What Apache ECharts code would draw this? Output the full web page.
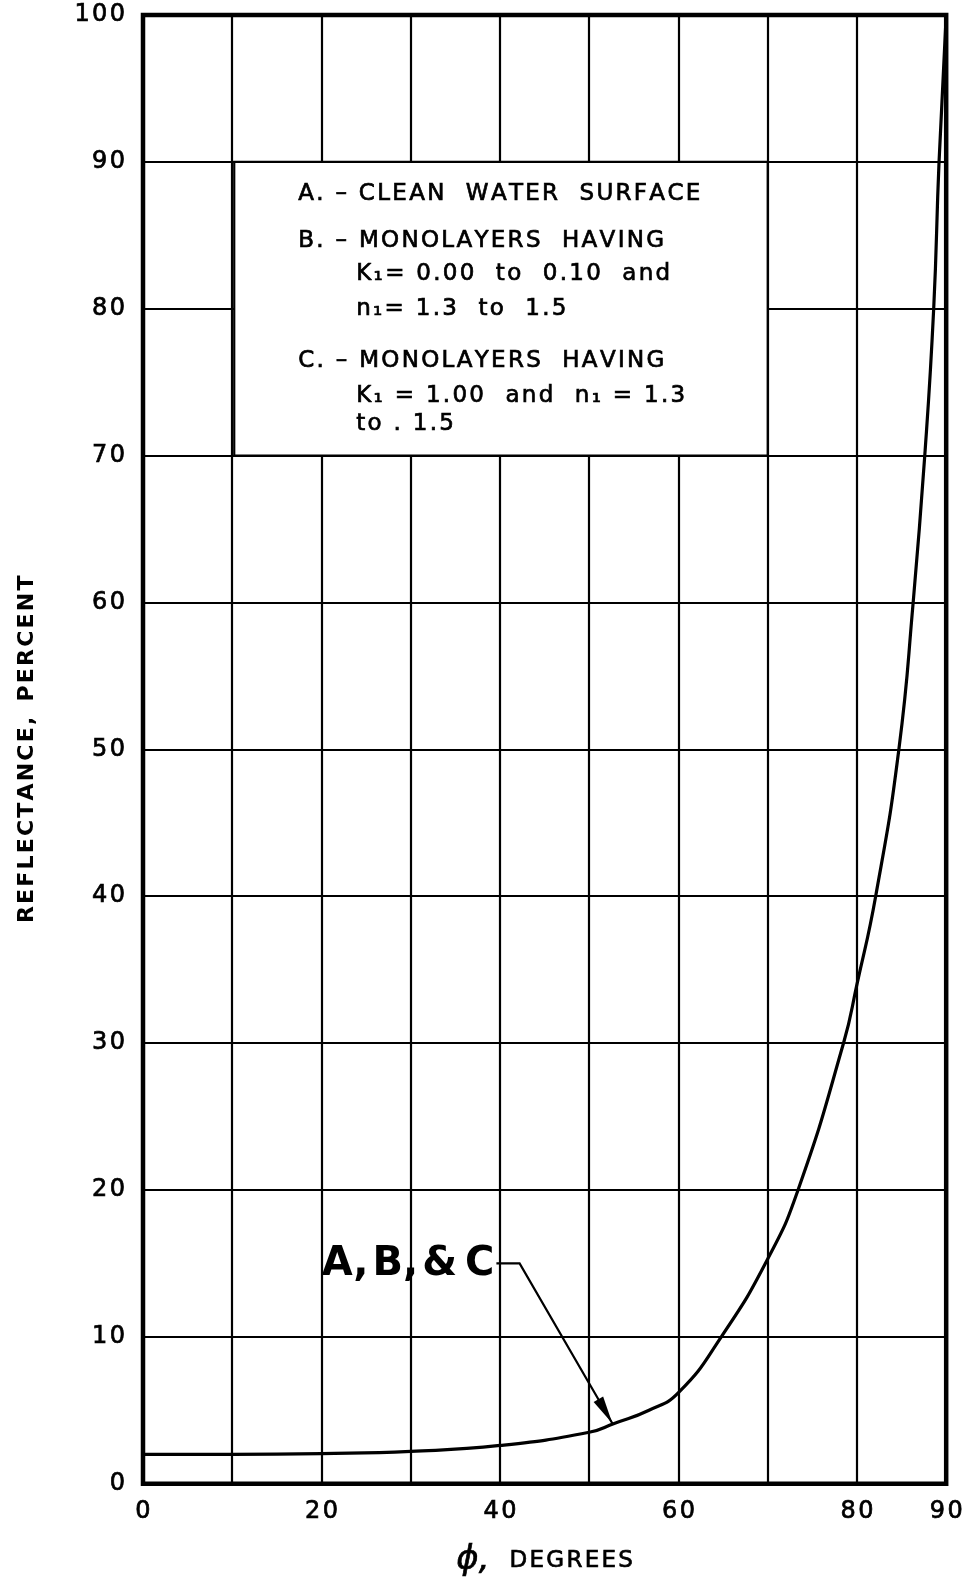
<!DOCTYPE html>
<html>
<head>
<meta charset="utf-8">
<script src="https://cdn.jsdelivr.net/npm/echarts@6/dist/echarts.min.js"></script>
<style>
  html, body { margin: 0; padding: 0; background: #ffffff; }
  #chart { width: 966px; height: 1583px; }
</style>
</head>
<body>
<div id="chart"></div>
<script>
// Angle of incidence (degrees) and reflectance (percent) along the curve
const angleDeg    = [0,   10,  20,   30,  40,  50,  52.8, 56.7, 60,  64.8, 70,   73.4, 78.5, 80, 82.1, 84.7, 86.3, 87.6, 88.6, 89.2, 90];
const reflectance = [2.0, 2.0, 2.05, 2.2, 2.6, 3.5, 4.1,  5.0,  6.2, 10.0, 15.3, 20,   30,   34, 40,   50,   60,   70,   80,   90,   100];

// Tick labels
const xTickLabels = [0, 20, 40, 60, 80, 90];
const yTickLabels = [0, 10, 20, 30, 40, 50, 60, 70, 80, 90, 100];

// Key box contents
const keyLines = [
  { text: 'A. – CLEAN  WATER  SURFACE', indent: 0 },
  { text: 'B. – MONOLAYERS  HAVING', indent: 0 },
  { text: 'K₁= 0.00  to  0.10  and', indent: 1 },
  { text: 'n₁= 1.3  to  1.5', indent: 1 },
  { text: 'C. – MONOLAYERS  HAVING', indent: 0 },
  { text: 'K₁ = 1.00  and  n₁ = 1.3', indent: 1 },
  { text: 'to . 1.5', indent: 1 }
];
const keyBoxCorners = [[10, 90], [70, 70]];

// Callout pointing at the common curve
const calloutText = 'A,\u200AB,\u200A&\u2009C';
const calloutPath = [[39.6, 15.0], [42.2, 15.0], [52.6, 4.1]];

const FONT = 'DejaVu Sans';
const HAIR = '\u200A';
// widen lettering a little, like hand-lettered text
const spaced = s => Array.from(s).join(HAIR);

const curveData = angleDeg.map((a, i) => [a, reflectance[i]]);

const chart = echarts.init(document.getElementById('chart'), null, { renderer: 'canvas' });

const labelInk = { textBorderColor: '#000', textBorderWidth: 0.7 };

chart.setOption({
  backgroundColor: '#ffffff',
  animation: false,
  grid: {
    left: 143, right: 18, top: 15, bottom: 89,
    show: true, borderColor: '#000', borderWidth: 4.5, backgroundColor: 'transparent'
  },
  xAxis: {
    type: 'value', min: 0, max: 90, interval: 10,
    axisLine: { show: false }, axisTick: { show: false },
    splitLine: { show: true, lineStyle: { color: '#000', width: 2.2 } },
    axisLabel: Object.assign({
      margin: 16, color: '#000', fontFamily: FONT, fontSize: 24,
      formatter: v => (xTickLabels.indexOf(v) >= 0 ? spaced(String(v)) : '')
    }, labelInk),
    name: '{phi|ϕ,}      {t|' + spaced('DEGREES') + '}',
    nameLocation: 'middle', nameGap: 60,
    nameTextStyle: {
      rich: {
        phi: Object.assign({ fontFamily: FONT, fontSize: 34, fontStyle: 'italic', color: '#000' }, labelInk),
        t: Object.assign({ fontFamily: FONT, fontSize: 23, color: '#000' }, labelInk)
      }
    }
  },
  yAxis: {
    type: 'value', min: 0, max: 100, interval: 10,
    axisLine: { show: false }, axisTick: { show: false },
    splitLine: { show: true, lineStyle: { color: '#000', width: 2.2 } },
    axisLabel: Object.assign({
      margin: 18, color: '#000', fontFamily: FONT, fontSize: 24,
      formatter: v => (yTickLabels.indexOf(v) >= 0 ? spaced(String(v)) : '')
    }, labelInk),
    name: spaced('REFLECTANCE,') + '  ' + spaced('PERCENT'),
    nameLocation: 'middle', nameGap: 105, nameRotate: 90,
    nameTextStyle: { fontFamily: FONT, fontSize: 22, fontWeight: 'bold', color: '#000' }
  },
  series: [
    {
      type: 'line',
      data: curveData,
      smooth: 0.5,
      showSymbol: false,
      lineStyle: { color: '#000', width: 3.2 },
      z: 5
    },
    {
      type: 'lines',
      coordinateSystem: 'cartesian2d',
      polyline: true,
      symbol: 'none',
      lineStyle: { color: '#000', width: 2.2, opacity: 1, curveness: 0 },
      data: [{ coords: calloutPath }],
      z: 6
    }
  ]
});

function drawOverlays() {
  const p0 = chart.convertToPixel({ gridIndex: 0 }, keyBoxCorners[0]);
  const p1 = chart.convertToPixel({ gridIndex: 0 }, keyBoxCorners[1]);
  const bx = Math.min(p0[0], p1[0]) + 2, by = Math.min(p0[1], p1[1]);
  const bw = Math.abs(p1[0] - p0[0]) - 2, bh = Math.abs(p1[1] - p0[1]);

  const lineY = [32, 79, 112, 147, 199, 234, 262];
  const elements = [{
    type: 'rect', z: 100,
    shape: { x: bx, y: by, width: bw, height: bh },
    style: { fill: '#fff', stroke: '#000', lineWidth: 2.2 }
  }];
  keyLines.forEach((ln, i) => {
    elements.push({
      type: 'text', z: 101,
      x: bx + (ln.indent ? 122 : 64), y: by + lineY[i],
      style: {
        text: spaced(ln.text), fill: '#000', font: '23px "' + FONT + '"',
        stroke: '#000', lineWidth: 0.7,
        textAlign: 'left', textVerticalAlign: 'middle'
      }
    });
  });

  // callout label and arrowhead
  const c = chart.convertToPixel({ gridIndex: 0 }, calloutPath[0]);
  elements.push({
    type: 'text', z: 101,
    x: c[0] - 2, y: c[1] + 1,
    style: {
      text: calloutText, fill: '#000', font: 'bold 40px "' + FONT + '"',
      textAlign: 'right', textVerticalAlign: 'middle'
    }
  });
  const a = chart.convertToPixel({ gridIndex: 0 }, calloutPath[1]);
  const t = chart.convertToPixel({ gridIndex: 0 }, calloutPath[2]);
  const dx = t[0] - a[0], dy = t[1] - a[1];
  const len = Math.hypot(dx, dy), ux = dx / len, uy = dy / len;
  const headLen = 28, headHalf = 5.5;
  const bxh = t[0] - ux * headLen, byh = t[1] - uy * headLen;
  elements.push({
    type: 'polygon', z: 101,
    shape: { points: [
      [t[0], t[1]],
      [bxh - uy * headHalf, byh + ux * headHalf],
      [bxh + uy * headHalf, byh - ux * headHalf]
    ] },
    style: { fill: '#000' }
  });
  chart.setOption({ graphic: { elements: elements } });
}
drawOverlays();
</script>
</body>
</html>
